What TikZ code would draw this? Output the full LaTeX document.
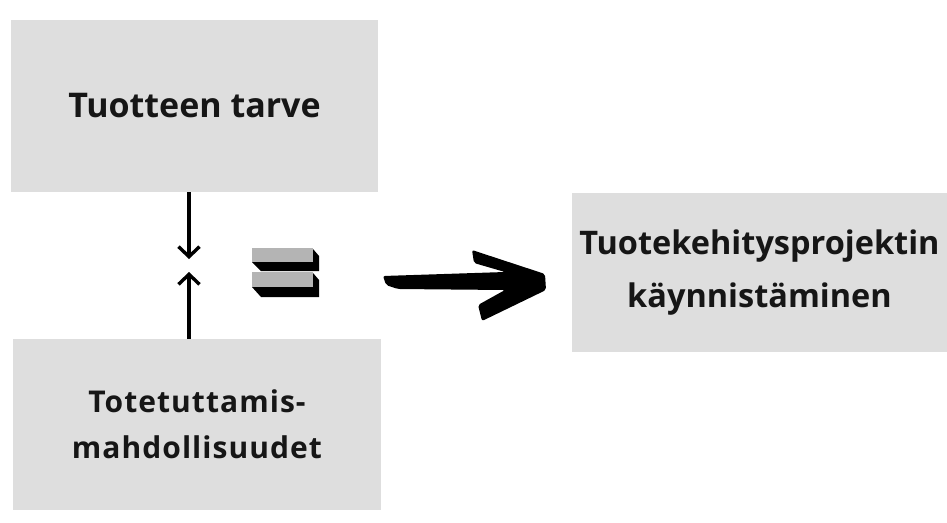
\documentclass[tikz,border=0pt]{standalone}
\usepackage{fontspec}
\setmainfont{Open Sans}
\usetikzlibrary{arrows.meta}
\definecolor{boxgrey}{HTML}{DEDEDE}
\definecolor{eqgrey}{HTML}{B4B4B4}
\definecolor{txt}{HTML}{161616}
\tikzset{
  box/.style={fill=boxgrey, draw=none, inner sep=0pt, align=center, text=txt, font=\bfseries},
  thinarrow/.style={line width=3.4pt, -{Straight Barb[length=10pt,width=21pt,line width=3.4pt]}}
}
\begin{document}
\begin{tikzpicture}[x=1pt,y=-1pt]
\useasboundingbox (0,0) rectangle (947,522);
\node[box, minimum width=367pt, minimum height=172pt, font=\bfseries\fontsize{34}{40}\selectfont] (need) at (194.5,106) {Tuotteen tarve};
\node[box, minimum width=368pt, minimum height=171pt, font=\bfseries\fontsize{30}{46}\selectfont\addfontfeatures{LetterSpace=3.5}] (feas) at (197,424.5) {Totetuttamis-\\mahdollisuudet};
\node[box, minimum width=375pt, minimum height=159pt, font=\bfseries\fontsize{32.5}{53}\selectfont] (proj) at (759.5,272.5) {Tuotekehitysprojektin\\käynnistäminen};
\coordinate (m1) at (189,259);
\coordinate (m2) at (189,272);
\draw[thinarrow] (need.south -| m1) -- (m1);
\draw[thinarrow] (feas.north -| m2) -- (m2);
% equals sign
\fill[black] (313,249) -- (319,256) -- (319,271) -- (261,271) -- (252,262) -- (313,262) -- cycle;
\fill[eqgrey] (252,248) rectangle (313,262);
\fill[black] (313,273) -- (319,280) -- (319,297) -- (261,297) -- (252,287) -- (313,287) -- cycle;
\fill[eqgrey] (252,272) rectangle (313,287);
% big arrow
\coordinate (bigstart) at (383,276);
\fill[black, rounded corners=2pt] (bigstart) -- (505,272) -- (474,263) -- (472,250) -- (545,274) -- (546,290) -- (482,321) -- (478,305) -- (505,290) -- (398,289) -- (386,285) -- cycle;
\end{tikzpicture}
\end{document}
